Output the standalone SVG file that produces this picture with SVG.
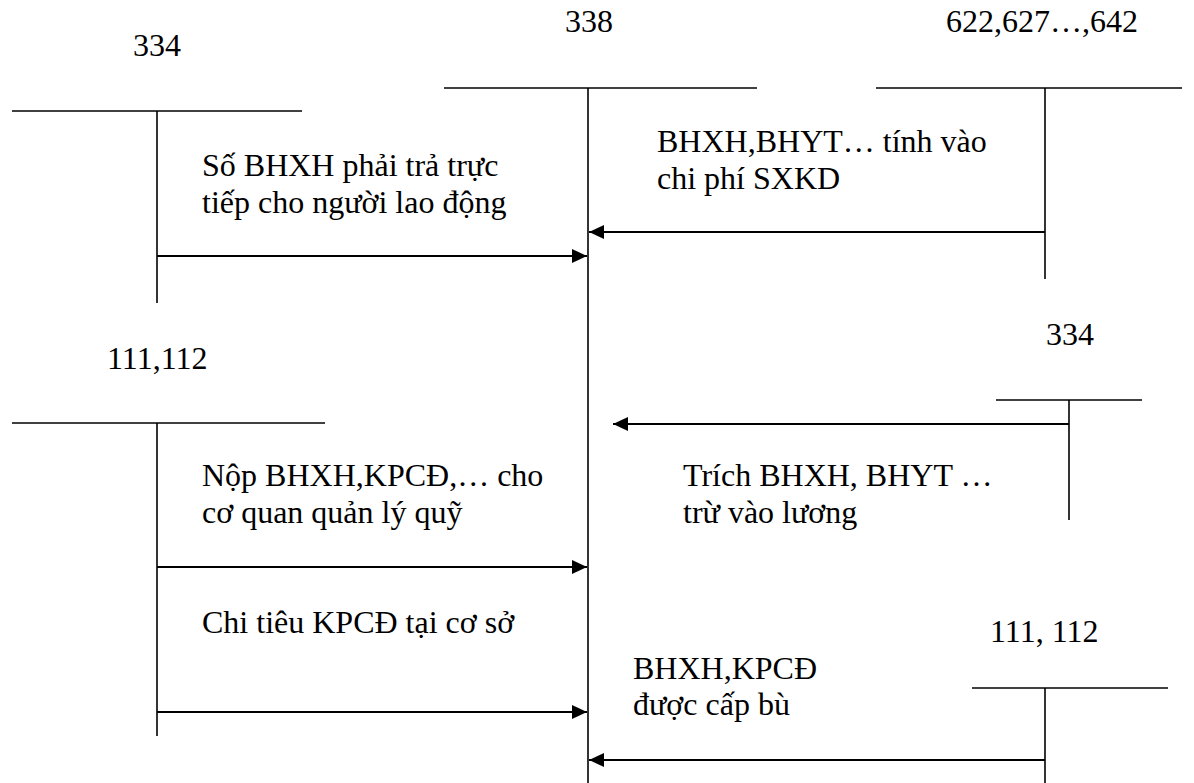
<svg xmlns="http://www.w3.org/2000/svg" width="1194" height="783" viewBox="0 0 1194 783">
<defs>
<style>
.t{stroke:#000;stroke-width:1.6;fill:none}
.a{stroke:#000;stroke-width:2.2;fill:none;marker-end:url(#ah)}
</style>
<marker id="ah" markerUnits="userSpaceOnUse" markerWidth="16" markerHeight="14" refX="15" refY="7" orient="auto">
<path d="M0,0 L15,7 L0,14 Z" fill="#000"/>
</marker>
</defs>
<rect width="1194" height="783" fill="#fff"/>
<g font-family="Liberation Serif, Times New Roman, Times, serif" font-size="32" fill="#000">
<g id="acc334a">
<text x="133" y="56">334</text>
<line class="t" x1="12" y1="111" x2="302" y2="111"/>
<line class="t" x1="157" y1="111" x2="157" y2="303"/>
</g>
<g id="acc338">
<text x="565" y="32">338</text>
<line class="t" x1="444" y1="88" x2="757" y2="88"/>
<line class="t" x1="588" y1="88" x2="588" y2="783"/>
</g>
<g id="acc622">
<text x="946" y="32">622,627…,642</text>
<line class="t" x1="876" y1="88" x2="1182" y2="88"/>
<line class="t" x1="1045" y1="88" x2="1045" y2="279"/>
</g>
<g id="acc111a">
<text x="107" y="369">111,112</text>
<line class="t" x1="12" y1="423" x2="325" y2="423"/>
<line class="t" x1="157" y1="423" x2="157" y2="736"/>
</g>
<g id="acc334b">
<text x="1046" y="345">334</text>
<line class="t" x1="996" y1="400" x2="1142" y2="400"/>
<line class="t" x1="1069" y1="400" x2="1069" y2="520"/>
</g>
<g id="acc111b">
<text x="990" y="642">111, 112</text>
<line class="t" x1="972" y1="688" x2="1168" y2="688"/>
<line class="t" x1="1045" y1="688" x2="1045" y2="783"/>
</g>
<g id="labels">
<text x="202" y="176">Số BHXH phải trả trực</text>
<text x="202" y="213">tiếp cho người lao động</text>
<text x="657" y="152">BHXH,BHYT… tính vào</text>
<text x="657" y="189">chi phí SXKD</text>
<text x="202" y="486">Nộp BHXH,KPCĐ,… cho</text>
<text x="202" y="523">cơ quan quản lý quỹ</text>
<text x="683" y="486">Trích BHXH, BHYT …</text>
<text x="683" y="523">trừ vào lương</text>
<text x="202" y="633">Chi tiêu KPCĐ tại cơ sở</text>
<text x="633" y="679">BHXH,KPCĐ</text>
<text x="633" y="715">được cấp bù</text>
</g>
</g>
<g id="connectors">
<line class="a" x1="157" y1="256" x2="587" y2="256"/>
<line class="a" x1="1045" y1="232" x2="589" y2="232"/>
<line class="a" x1="1069" y1="424" x2="613" y2="424"/>
<line class="a" x1="157" y1="567" x2="587" y2="567"/>
<line class="a" x1="157" y1="712" x2="587" y2="712"/>
<line class="a" x1="1045" y1="760" x2="589" y2="760"/>
</g>
</svg>
